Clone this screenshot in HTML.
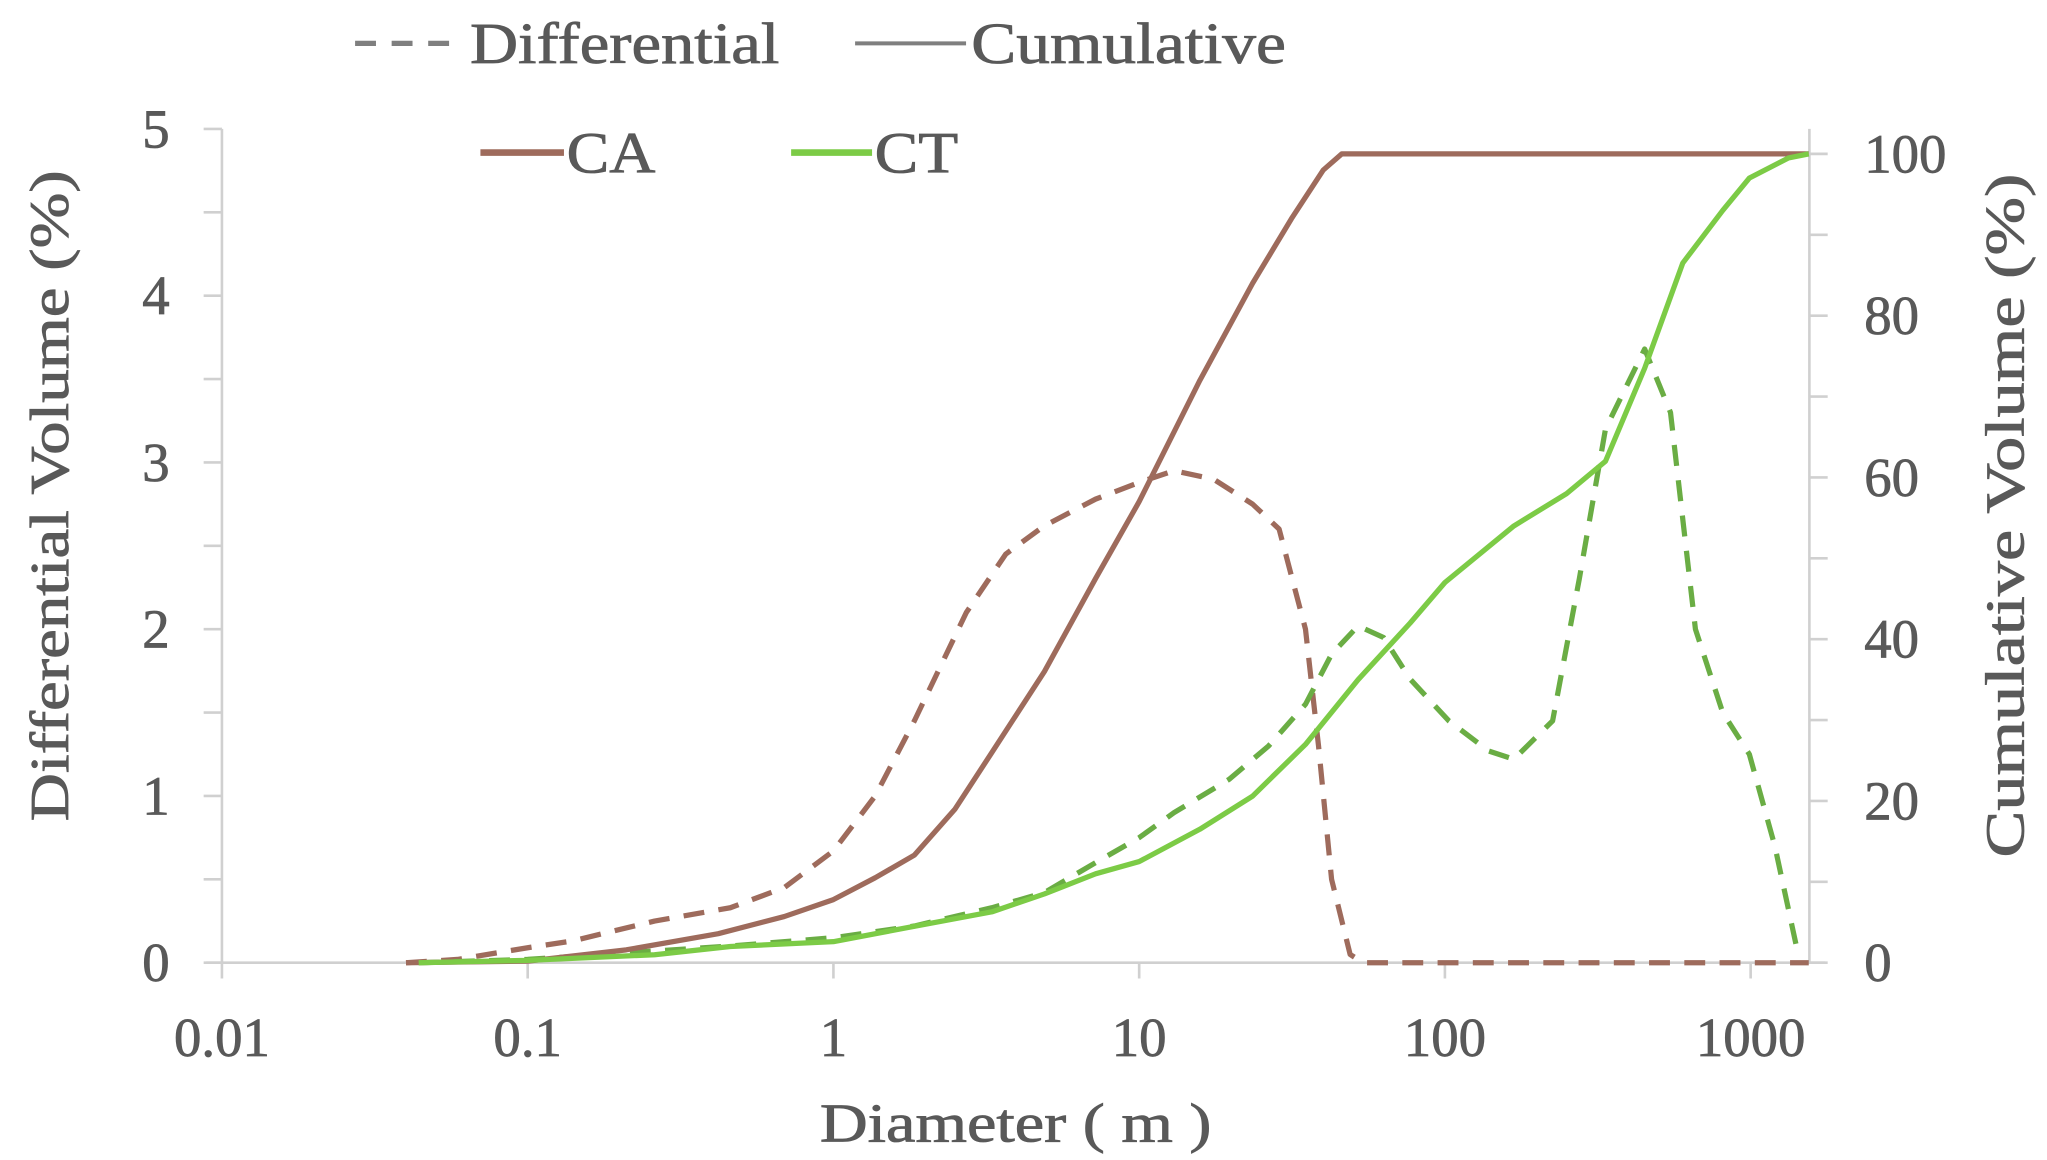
<!DOCTYPE html>
<html><head><meta charset="utf-8"><style>
html,body{margin:0;padding:0;background:#fff;}
svg{display:block;}
text{font-family:"Liberation Serif",serif;fill:#595959;stroke:#595959;stroke-width:0.6;}
</style></head><body>
<svg id="chart" width="2047" height="1160" viewBox="0 0 1568 882" preserveAspectRatio="none" xmlns="http://www.w3.org/2000/svg">
<g id="axes"></g>
<g id="series"></g>
<g>
  <line x1="272" y1="33" x2="350" y2="33" stroke="#7f7f7f" stroke-width="4" stroke-dasharray="16,12"/>
  <text x="360" y="48" font-size="44" textLength="237" lengthAdjust="spacingAndGlyphs">Differential</text>
  <line x1="655" y1="33" x2="740" y2="33" stroke="#7f7f7f" stroke-width="3"/>
  <text x="744" y="48" font-size="44" textLength="241" lengthAdjust="spacingAndGlyphs">Cumulative</text>
  <line x1="368" y1="116" x2="432" y2="116" stroke="#9e6b5c" stroke-width="5"/>
  <text x="434" y="131" font-size="44" textLength="68" lengthAdjust="spacingAndGlyphs">CA</text>
  <line x1="606" y1="116" x2="668" y2="116" stroke="#7ccb46" stroke-width="5"/>
  <text x="670" y="131" font-size="44" textLength="64" lengthAdjust="spacingAndGlyphs">CT</text>
</g>
<text transform="translate(52,377) rotate(-90)" text-anchor="middle" font-size="42" textLength="495" lengthAdjust="spacingAndGlyphs">Differential Volume  (%)</text>
<text transform="translate(1550,392) rotate(-90)" text-anchor="middle" font-size="42" textLength="520" lengthAdjust="spacingAndGlyphs">Cumulative Volume (%)</text>
<text x="778" y="868" text-anchor="middle" font-size="42" textLength="300" lengthAdjust="spacingAndGlyphs">Diameter (   m )</text>
</svg>
<script>
const xTicks=[0.01,0.1,1,10,100,1000];
const xTickLabels=["0.01","0.1","1","10","100","1000"];
const yLeftTicks=[0,1,2,3,4,5];
const yRightTicks=[0,20,40,60,80,100];
const caCumX=[0.04,0.1,0.21,0.42,0.69,1,1.37,1.84,2.5,3.3,4.9,7.2,10,15.8,23.5,31.5,40,46,1549];
const caCumY=[0,0.2,1.6,3.6,5.7,7.8,10.5,13.3,19,26,36,47.5,57,72,84,92,98,100,100];
const caDiffX=[0.04,0.059,0.1,0.14,0.26,0.46,0.69,1,1.37,1.84,2.72,3.66,4.9,7.2,10,13,17.5,23.5,28.7,35,38.6,42.6,49,54,1549];
const caDiffY=[0,0.02,0.09,0.13,0.25,0.33,0.45,0.67,1.0,1.45,2.1,2.45,2.62,2.78,2.88,2.95,2.9,2.75,2.6,2.0,1.3,0.5,0.05,0,0];
const ctCumX=[0.044,0.1,0.26,0.46,1,1.84,3.3,4.9,7.2,10,15.8,23.5,35,52,77,100,168,250,335,450,600,810,990,1330,1549];
const ctCumY=[0,0.3,1,2,2.6,4.5,6.3,8.5,11,12.5,16.5,20.6,27,35,42,47,54,58,62,73.5,86.5,93,97,99.5,100];
const ctDiffX=[0.044,0.1,0.26,0.46,1,1.84,3.3,4.9,7.2,10,13,19.7,26.5,35,42.6,52,63,77,103,139,168,225,275,335,450,547,660,810,990,1200,1430];
const ctDiffY=[0,0.02,0.07,0.1,0.15,0.22,0.33,0.42,0.6,0.75,0.9,1.1,1.3,1.55,1.85,2.02,1.95,1.7,1.45,1.27,1.22,1.45,2.3,3.2,3.68,3.3,2.0,1.5,1.25,0.7,0.05];

const NS="http://www.w3.org/2000/svg";
const X0=170,DEC=234.2,YB=732;
function sx(d){return X0+(Math.log10(d)+2)*DEC;}
function syL(v){return YB-v*126.8;}
function syR(v){return YB-v*6.15;}
const axes=document.getElementById('axes'),series=document.getElementById('series');
function mk(tag,attrs,parent){const e=document.createElementNS(NS,tag);for(const k in attrs)e.setAttribute(k,attrs[k]);parent.appendChild(e);return e;}
const XR=1386;
let e;
e=mk('line',{x1:X0,y1:98,x2:X0,y2:YB,stroke:'#d0d0d0','stroke-width':2},axes);


e=mk('line',{x1:XR,y1:98,x2:XR,y2:YB,stroke:'#d0d0d0','stroke-width':2},axes);


e=mk('line',{x1:X0-12,y1:YB,x2:XR+12,y2:YB,stroke:'#d0d0d0','stroke-width':2},axes);


xTicks.forEach((t,i)=>{
  const x=sx(t);
  const l=mk('line',{x1:x,y1:YB,x2:x,y2:YB+12,stroke:'#d0d0d0','stroke-width':2},axes);
  
  
  const tx=mk('text',{x:x,y:803,'text-anchor':'middle','font-size':42},axes);
  tx.textContent=xTickLabels[i];
  
  
});
for(let v=0;v<=5.001;v+=0.5){
  const y=syL(v);
  const l=mk('line',{x1:X0-14,y1:y,x2:X0,y2:y,stroke:'#d0d0d0','stroke-width':2},axes);
  
  
}
yLeftTicks.forEach(v=>{
  const tx=mk('text',{x:130,y:syL(v)+14,'text-anchor':'end','font-size':42},axes);
  tx.textContent=v;
  
  
});
for(let v=0;v<=100.01;v+=10){
  const y=syR(v);
  const l=mk('line',{x1:XR,y1:y,x2:XR+14,y2:y,stroke:'#d0d0d0','stroke-width':2},axes);
  
  
}
yRightTicks.forEach(v=>{
  const tx=mk('text',{x:1428,y:syR(v)+14,'font-size':42},axes);
  tx.textContent=v;
  
  
});
function line(xs,ys,fy,color,dash,name){
  const pts=xs.map((d,i)=>sx(d).toFixed(1)+','+fy(ys[i]).toFixed(1)).join(' ');
  const p=mk('polyline',{points:pts,fill:'none',stroke:color,'stroke-width':4,'stroke-linejoin':'round'},series);
  if(dash)p.setAttribute('stroke-dasharray','16,11');
  
  
}
line(caDiffX,caDiffY,syL,'#9e6b5c',true,'ca-differential-line');
line(ctDiffX,ctDiffY,syL,'#6aad44',true,'ct-differential-line');
line(caCumX,caCumY,syR,'#9e6b5c',false,'ca-cumulative-line');
line(ctCumX,ctCumY,syR,'#7ccb46',false,'ct-cumulative-line');
</script>
</body></html>
